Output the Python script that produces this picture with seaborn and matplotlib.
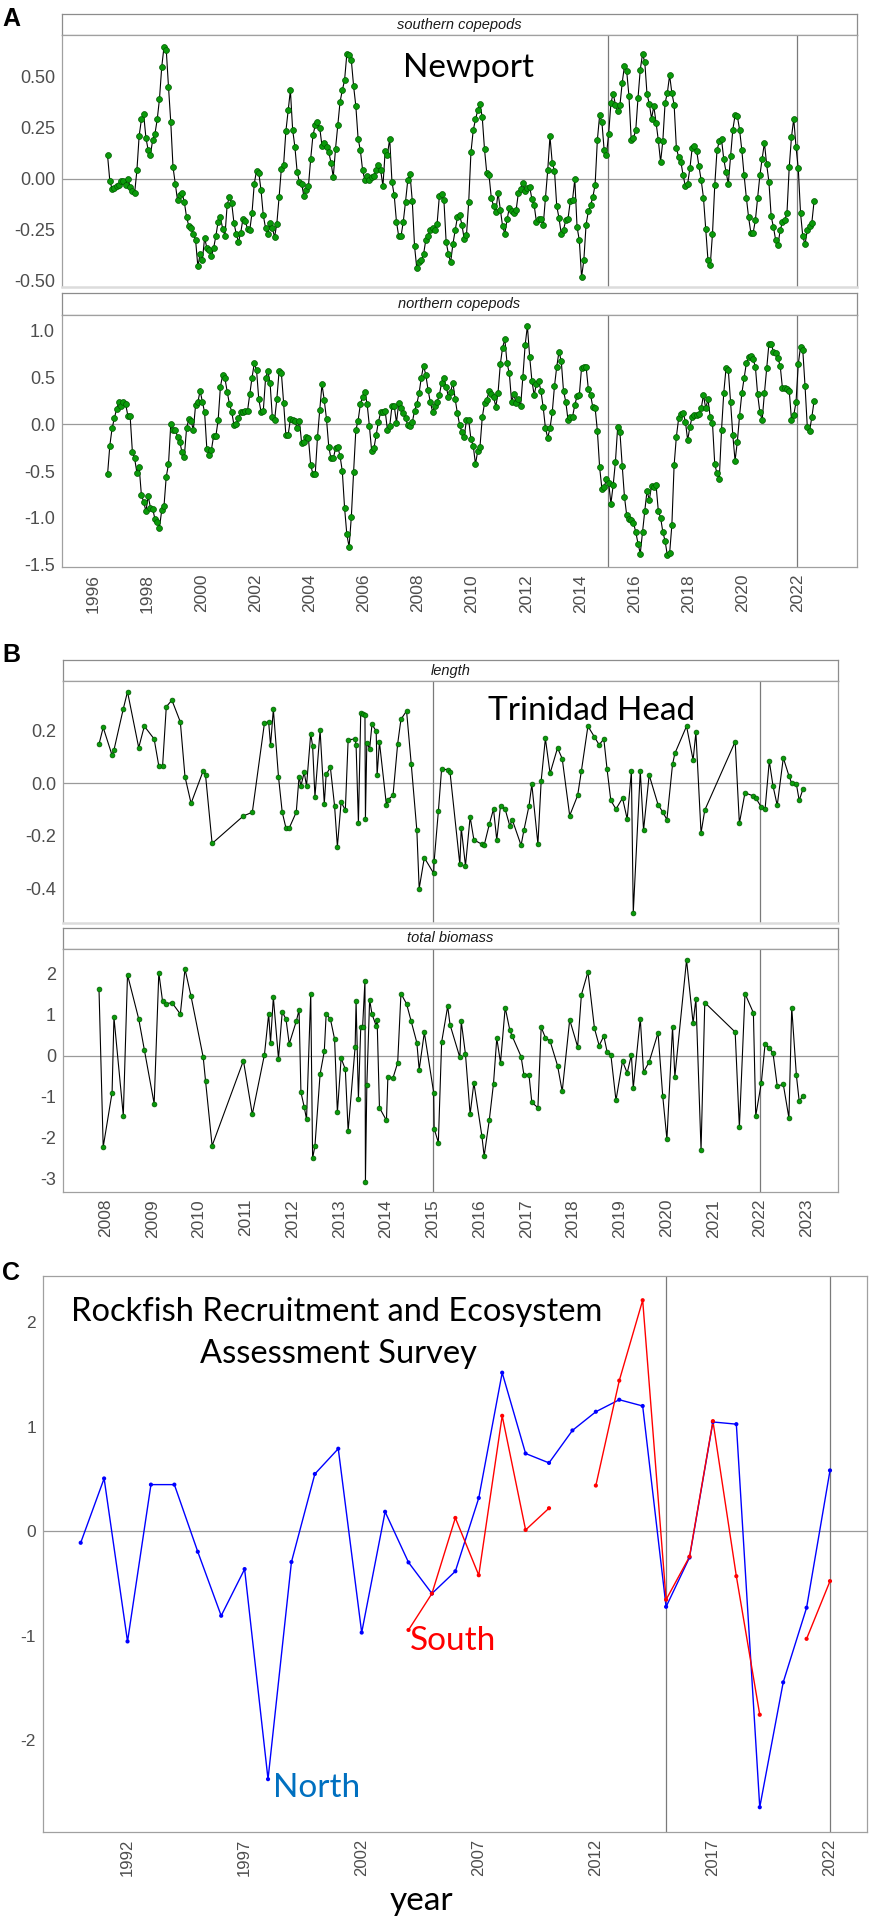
import matplotlib
matplotlib.use("Agg")
import matplotlib.pyplot as plt
import numpy as np
import pandas as pd
import seaborn as sns


W, H = 873, 1922

# ---- A: Newport copepod anomalies, monthly from Jul 1996 ----
NEWPORT_START = 1996 + 6.5 / 12

SOUTHERN = [
    0.114, -0.01, -0.05, -0.045, -0.035, -0.03, -0.01, -0.01, -0.03, 0.0,
    -0.04, -0.06, -0.07, 0.04, 0.21, 0.29, 0.315, 0.2, 0.14, 0.118,
    0.19, 0.22, 0.29, 0.39, 0.547, 0.645, 0.632, 0.45, 0.278, 0.057,
    -0.025, -0.106, -0.078, -0.07, -0.114, -0.188, -0.232, -0.242, -0.27, -0.30,
    -0.43, -0.37, -0.40, -0.29, -0.34, -0.35, -0.38, -0.34, -0.28, -0.21,
    -0.19, -0.245, -0.28, -0.127, -0.09, -0.12, -0.217, -0.27, -0.31, -0.265,
    -0.196, -0.209, -0.245, -0.253, -0.167, -0.025, 0.039, 0.029, -0.057, -0.18,
    -0.242, -0.27, -0.217, -0.242, -0.286, -0.22, -0.09, 0.049, 0.069, 0.232,
    0.335, 0.433, 0.24, 0.155, 0.033, -0.016, -0.025, -0.087, -0.057, -0.036,
    0.098, 0.212, 0.261, 0.276, 0.25, 0.16, 0.175, 0.155, 0.131, 0.078,
    0.008, 0.147, 0.261, 0.376, 0.433, 0.482, 0.61, 0.605, 0.58, 0.454,
    0.355, 0.196, 0.139, 0.041, -0.008, 0.011, -0.008, 0.008, 0.013, 0.041,
    0.069, 0.041, -0.036, 0.136, 0.118, 0.196, -0.016, -0.082, -0.212, -0.283,
    -0.283, -0.212, -0.114, -0.008, 0.021, -0.109, -0.33, -0.44, -0.41, -0.40,
    -0.37, -0.30, -0.28, -0.25, -0.24, -0.25, -0.22,
    -0.085, -0.077, -0.103, -0.31, -0.368, -0.41, -0.32, -0.253, -0.188, -0.18,
    -0.225, -0.297, -0.278, -0.114, 0.13, 0.237, 0.29, 0.335, 0.368, 0.3,
    0.144, 0.028, 0.016, -0.093, -0.134, -0.163, -0.069, -0.152, -0.232, -0.27,
    -0.2, -0.142, -0.16, -0.168, -0.155, -0.07, -0.049, -0.021, -0.06, -0.046,
    -0.04, -0.1, -0.13, -0.212, -0.196, -0.2, -0.229, -0.093, 0.04, 0.207,
    0.078, 0.038, -0.134, -0.193, -0.27, -0.25, -0.204, -0.196, -0.11, -0.103,
    -0.003, -0.237, -0.302, -0.482, -0.40, -0.225, -0.16, -0.13, -0.09, -0.03,
    0.19, 0.31, 0.278, 0.14, 0.115, 0.22, 0.37, 0.417, 0.363, 0.33,
    0.36, 0.47, 0.552, 0.526, 0.404, 0.19, 0.2, 0.237, 0.395, 0.534,
    0.61, 0.572, 0.413, 0.368, 0.294, 0.355, 0.275, 0.188, 0.082, 0.185,
    0.371, 0.42, 0.507, 0.42, 0.363, 0.15, 0.106, 0.082, 0.016, -0.038,
    -0.025, 0.052, 0.15, 0.158, 0.136, 0.06, -0.008, -0.093, -0.248, -0.40,
    -0.425, -0.27, -0.033, 0.139, 0.183, 0.193, 0.095, 0.033, -0.025, 0.11,
    0.24, 0.31, 0.307, 0.24, 0.139, 0.016, -0.093, -0.19, -0.265, -0.266,
    -0.204, -0.093, 0.016, 0.098, 0.175, 0.07, -0.016, -0.185, -0.237, -0.302,
    -0.324, -0.253, -0.212, -0.204, -0.167, 0.057, 0.204, 0.294, 0.155, 0.05,
    -0.167, -0.283, -0.322, -0.253, -0.234, -0.217, -0.111,
]

NORTHERN = [
    -0.535, -0.228, -0.043, 0.064, 0.164, 0.236, 0.2, 0.236, 0.218, 0.093,
    0.089, -0.293, -0.364, -0.517, -0.454, -0.757, -0.828, -0.928, -0.768, -0.889,
    -0.9, -1.014, -1.042, -1.103, -0.918, -0.875, -0.56, -0.425, 0.0, -0.06,
    -0.055, -0.13, -0.185, -0.3, -0.346, -0.043, 0.057, 0.036, -0.06, 0.207,
    0.236, 0.36, 0.243, 0.128, -0.268, -0.328, -0.275, -0.121, -0.121, 0.046,
    0.403, 0.528, 0.493, 0.35, 0.218, 0.136, -0.007, 0.0, 0.064, 0.136,
    0.128, 0.146, 0.143, 0.321, 0.5, 0.653, 0.582, 0.268, 0.136, 0.146,
    0.493, 0.571, 0.446, 0.075, 0.046, 0.271, 0.571, 0.553, 0.232, -0.114,
    -0.114, 0.054, 0.046, 0.036, -0.043, 0.036, -0.203, -0.193, -0.132, -0.15,
    -0.435, -0.532, -0.532, -0.139, 0.153, 0.428, 0.26, 0.057, -0.239, -0.364,
    -0.364, -0.257, -0.239, -0.339, -0.5, -0.89, -1.175, -1.31, -0.99, -0.51,
    -0.06, 0.04, 0.218, 0.296, 0.343, 0.218, -0.018, -0.282, -0.257, -0.114,
    0.029, 0.128, 0.136, 0.143, -0.06, -0.018, 0.196, 0.2, 0.018, 0.232,
    0.171, 0.118, 0.064, -0.007, -0.018, 0.021, 0.146, 0.218, 0.332, 0.5,
    0.628, 0.528, 0.368, 0.236, 0.136, 0.2, 0.243, 0.314, 0.446, 0.493,
    0.403, 0.296, 0.35, 0.446, 0.271, 0.118, -0.007, -0.086, -0.132, 0.046,
    0.046, -0.161, -0.228, -0.425, -0.282, -0.239, 0.075, 0.225, 0.26, 0.357,
    0.325, 0.296, 0.189, 0.339, 0.642, 0.821, 0.91, 0.653, 0.546, 0.243,
    0.321, 0.225, 0.271, 0.196, 0.51, 0.849, 1.053, 0.724, 0.468, 0.314,
    0.432, 0.464, 0.357, 0.182, -0.043, -0.143, -0.043, 0.128, 0.41, 0.617,
    0.778, 0.678, 0.357, 0.243, 0.046, 0.082, 0.082, 0.207, 0.303, 0.314,
    0.607, 0.617, 0.617, 0.378, 0.314, 0.182, 0.178, -0.068, -0.46, -0.686,
    -0.668, -0.589, -0.625, -0.846, -0.65, -0.40, -0.025, -0.086, -0.44, -0.775,
    -0.971, -1.007, -1.025, -1.053, -1.15, -1.274, -1.381, -1.15, -0.925, -0.71,
    -0.81, -0.657, -0.668, -0.65, -0.925, -0.996, -1.15, -1.246, -1.40, -1.38,
    -1.078, -0.436, -0.132, 0.064, 0.107, 0.125, 0.029, -0.168, -0.025, 0.082,
    0.1, 0.1, 0.111, 0.171, 0.314, 0.171, 0.268, 0.075, 0.011, -0.425,
    -0.525, -0.585, -0.06, 0.339, 0.6, 0.582, 0.243, -0.114, -0.389, -0.186,
    0.093, 0.332, 0.493, 0.653, 0.724, 0.732, 0.696, 0.617, 0.321, 0.128,
    0.046, 0.332, 0.6, 0.86, 0.86, 0.778, 0.76, 0.707, 0.625, 0.385,
    0.393, 0.375, 0.36, 0.046, 0.1, 0.236, 0.642, 0.832, 0.796, 0.41,
    -0.025, -0.071, 0.075, 0.25,
]

# ---- B: Trinidad Head cruises (decimal year) ----
TRINIDAD_DATES = [
    2007.86, 2007.95, 2008.14, 2008.18, 2008.38, 2008.47, 2008.71, 2008.83, 2009.04, 2009.14,
    2009.22, 2009.30, 2009.42, 2009.60, 2009.70, 2009.83, 2010.09, 2010.14, 2010.28, 2010.95,
    2011.14, 2011.40, 2011.49, 2011.53, 2011.59, 2011.70, 2011.78, 2011.86, 2011.93, 2012.08,
    2012.14, 2012.18, 2012.25, 2012.30, 2012.39, 2012.43, 2012.48, 2012.59, 2012.68, 2012.72,
    2012.81, 2012.90, 2012.96, 2013.04, 2013.13, 2013.19, 2013.34, 2013.36, 2013.41, 2013.46,
    2013.50, 2013.55, 2013.56, 2013.59, 2013.65, 2013.70, 2013.79, 2013.81, 2013.86, 2014.01,
    2014.04, 2014.15, 2014.25, 2014.32, 2014.44, 2014.54, 2014.66, 2014.71, 2014.82, 2015.02,
    2015.03, 2015.12, 2015.19, 2015.32, 2015.37, 2015.58, 2015.61, 2015.70, 2015.80, 2015.88,
    2016.05, 2016.10, 2016.21, 2016.30, 2016.37, 2016.45, 2016.55, 2016.65, 2016.70, 2016.89,
    2016.95, 2017.06, 2017.12, 2017.25, 2017.32, 2017.41, 2017.51, 2017.67, 2017.77, 2017.93,
    2018.10, 2018.18, 2018.32, 2018.46, 2018.56, 2018.66, 2018.73, 2018.81, 2018.92, 2019.06,
    2019.16, 2019.25, 2019.29, 2019.44, 2019.51, 2019.63, 2019.82, 2019.92, 2020.01, 2020.13,
    2020.18, 2020.43, 2020.57, 2020.63, 2020.74, 2020.82, 2021.47, 2021.56, 2021.68, 2021.86,
    2021.91, 2022.03, 2022.11, 2022.20, 2022.28, 2022.37, 2022.50, 2022.62, 2022.68, 2022.78,
    2022.84, 2022.92,
]

LENGTH = [
    0.149, 0.213, 0.107, 0.127, 0.284, 0.349, 0.136, 0.218, 0.169, 0.066,
    0.065, 0.292, 0.317, 0.234, 0.025, -0.076, 0.048, 0.030, -0.229, -0.124,
    -0.110, 0.230, 0.234, 0.145, 0.282, 0.025, -0.110, -0.170, -0.170, -0.110,
    0.025, -0.010, 0.042, -0.009, 0.189, 0.142, -0.051, 0.202, -0.077, 0.034,
    0.061, -0.086, -0.241, -0.071, -0.102, 0.165, 0.170, 0.146, -0.150, 0.269,
    0.264, 0.259, -0.135, 0.155, 0.131, 0.225, 0.199, 0.032, 0.157, -0.084,
    -0.062, -0.046, 0.151, 0.244, 0.276, 0.074, -0.179, -0.401, -0.283, -0.343,
    -0.297, -0.107, 0.056, 0.051, 0.042, -0.309, -0.169, -0.314, -0.128, -0.215,
    -0.232, -0.236, -0.156, -0.098, -0.216, -0.085, -0.099, -0.163, -0.138, -0.236,
    -0.179, -0.085, -0.004, -0.231, 0.010, 0.171, 0.038, 0.135, 0.094, -0.123,
    -0.046, 0.047, 0.218, 0.177, 0.147, 0.169, 0.053, -0.065, -0.098, -0.056,
    -0.136, 0.046, -0.493, 0.046, -0.179, 0.032, -0.081, -0.109, -0.138, 0.072,
    0.114, 0.218, 0.089, 0.194, -0.189, -0.102, 0.159, -0.152, -0.036, -0.048,
    -0.055, -0.091, -0.098, 0.085, -0.010, -0.084, 0.097, 0.029, 0.000, -0.003,
    -0.065, -0.022,
]

BIOMASS = [
    1.63, -2.23, -0.90, 0.94, -1.46, 1.98, 0.90, 0.15, -1.17, 2.03,
    1.33, 1.27, 1.30, 1.02, 2.12, 1.45, -0.04, -0.62, -2.20, -0.12,
    -1.43, 0.03, 1.02, 0.32, 1.43, -0.07, 1.07, 0.90, 0.29, 0.84,
    1.12, -0.89, -1.25, -1.55, 1.52, -2.51, -2.20, -0.45, 0.11, 1.02,
    0.90, 0.41, -1.38, -0.06, -0.33, -1.84, 0.22, 1.34, -1.05, 0.70,
    0.71, 1.84, -3.08, -0.72, 1.37, 1.02, 0.73, 0.88, -1.27, -1.58,
    -0.53, -0.54, -0.17, 1.52, 1.27, 0.84, 0.32, -0.34, 0.57, -0.90,
    -1.78, -2.12, 0.33, 1.21, 0.76, -0.04, 0.84, 0.04, -1.43, -0.66,
    -1.95, -2.45, -1.57, -0.68, 0.43, -0.17, 1.18, 0.62, 0.48, -0.02,
    -0.46, -0.48, -1.14, -1.27, 0.70, 0.44, 0.36, -0.24, -0.87, 0.88,
    0.22, 1.49, 2.05, 0.67, 0.25, 0.48, 0.10, 0.03, -1.09, -0.13,
    -0.42, 0.02, -0.79, 0.91, -0.40, -0.15, 0.56, -0.98, -2.04, 0.70,
    -0.51, 2.34, 0.80, 1.39, -2.30, 1.30, 0.58, -1.75, 1.52, 1.05,
    -1.47, -0.66, 0.29, 0.19, 0.06, -0.74, -0.70, -1.52, 1.18, -0.48,
    -1.11, -0.98,
]

# ---- C: RREAS annual index ----
NORTH_YEARS = list(range(1990, 2023))
NORTH = [
    -0.11, 0.506, -1.055, 0.447, 0.447, -0.196, -0.809, -0.362, -2.374, -0.294,
    0.549, 0.791, -0.970, 0.187, -0.298, -0.596, -0.383, 0.319, 1.519, 0.745,
    0.655, 0.966, 1.145, 1.26, 1.20, -0.723, -0.251, 1.047, 1.026, -2.643,
    -1.447, -0.732, 0.583,
]
SOUTH_YEARS = list(range(2004, 2023))
SOUTH = [
    -0.945, -0.596, 0.128, -0.421, 1.106, 0.013, 0.221, np.nan, 0.438, 1.443,
    2.213, -0.655, -0.243, 1.055, -0.43, -1.757, np.nan, -1.03, -0.477,
]

EVENT_YEARS = [2015, 2022]

GREEN = "#0a9a0a"
GREEN_EDGE = "#005a00"
TICK_GREY = "#4d4d4d"


sns.set_theme(style="white")
plt.rcParams["font.family"] = ["Liberation Sans", "DejaVu Sans"]
plt.rcParams["axes.unicode_minus"] = False

fig = plt.figure(figsize=(W / 100, H / 100), dpi=100)


def px_axes(left, top, right, bottom):
    return fig.add_axes([left / W, 1 - bottom / H, (right - left) / W, (bottom - top) / H])


def strip(left, top, right, bottom, label):
    ax = px_axes(left, top, right, bottom)
    ax.set_facecolor("white")
    ax.set_xticks([])
    ax.set_yticks([])
    for sp in ax.spines.values():
        sp.set_color("#8c8c8c")
        sp.set_linewidth(0.9)
    ax.text(0.5, 0.5, label, transform=ax.transAxes, ha="center", va="center",
            fontsize=10.5, style="italic", color="#1a1a1a")
    return ax


def panel(left, top, right, bottom, xlim, ylim, yticks, yfmt, xticks=None,
          ysize=13, xsize=12.5):
    ax = px_axes(left, top, right, bottom)
    ax.set_facecolor("white")
    ax.set_xlim(*xlim)
    ax.set_ylim(*ylim)
    ax.axhline(0, color="#9a9a9a", lw=0.9, zorder=1)
    for yr in EVENT_YEARS:
        ax.axvline(yr, color="#7a7a7a", lw=0.9, zorder=1)
    ax.set_yticks(yticks)
    ax.set_yticklabels([yfmt % v for v in yticks])
    if xticks is None:
        ax.set_xticks([])
    else:
        ax.set_xticks(xticks)
        ax.set_xticklabels([str(v) for v in xticks], rotation=90)
    ax.tick_params(axis="both", direction="out", length=3, width=0.7, color=TICK_GREY,
                   labelcolor=TICK_GREY, pad=2)
    ax.tick_params(axis="y", labelsize=ysize)
    ax.tick_params(axis="x", labelsize=xsize)
    for sp in ax.spines.values():
        sp.set_color("#a0a0a0")
        sp.set_linewidth(0.9)
    if xticks is None:
        ax.spines["bottom"].set_color("#dcdcdc")
        ax.spines["bottom"].set_linewidth(1.8)
    ax.set_xlabel("")
    ax.set_ylabel("")
    return ax


def green_series(ax, x, y, size):
    sns.lineplot(x=x, y=y, ax=ax, color="black", linewidth=0.8, estimator=None,
                 sort=False, zorder=2)
    sns.scatterplot(x=x, y=y, ax=ax, color=GREEN, edgecolor=GREEN_EDGE, linewidth=0.5,
                    s=size, zorder=3)
    ax.set_xlabel("")
    ax.set_ylabel("")


# ---------------- Panel A ----------------
south_dates = NEWPORT_START + np.arange(len(SOUTHERN)) / 12
north_dates = NEWPORT_START + np.arange(len(NORTHERN)) / 12
a_xlim = (1994.86, 2024.21)

strip(62, 14, 857, 35, "southern copepods")
ax_a1 = panel(62, 35, 857, 287, a_xlim, (-0.531, 0.704),
              [-0.5, -0.25, 0.0, 0.25, 0.5], "%.2f")
green_series(ax_a1, south_dates, SOUTHERN, 18)

strip(62, 293, 857, 315, "northern copepods")
ax_a2 = panel(62, 315, 857, 567, a_xlim, (-1.525, 1.17),
              [-1.5, -1.0, -0.5, 0.0, 0.5, 1.0], "%.1f", xticks=list(range(1996, 2023, 2)))
green_series(ax_a2, north_dates, NORTHERN, 18)

fig.text(469 / W, 1 - 77 / H, "Newport", ha="center", va="baseline",
         fontsize=24, family="Lato", color="black")

# ---------------- Panel B ----------------
b_xlim = (2007.09, 2023.67)

strip(63, 660, 838, 681, "length")
ax_b1 = panel(63, 681, 838, 923, b_xlim, (-0.532, 0.39),
              [-0.4, -0.2, 0.0, 0.2], "%.1f")
green_series(ax_b1, TRINIDAD_DATES, LENGTH, 12)

strip(63, 928, 838, 949, "total biomass")
ax_b2 = panel(63, 949, 838, 1192, b_xlim, (-3.33, 2.61),
              [-3, -2, -1, 0, 1, 2], "%d", xticks=list(range(2008, 2024)))
green_series(ax_b2, TRINIDAD_DATES, BIOMASS, 12)

fig.text(592 / W, 1 - 720 / H, "Trinidad Head", ha="center", va="baseline",
         fontsize=24, family="Lato", color="black")

# ---------------- Panel C ----------------
north_df = pd.DataFrame({"year": NORTH_YEARS, "value": NORTH, "site": "North", "seg": 0})
south_df = pd.DataFrame({"year": SOUTH_YEARS, "value": SOUTH, "site": "South"})
south_df["seg"] = 1 + south_df["value"].isna().cumsum()
rreas = pd.concat([north_df, south_df], ignore_index=True).dropna(subset=["value"])
palette = {"North": "#0000ff", "South": "#ff0000"}

ax_c = panel(43, 1276, 867, 1832, (1988.39, 2023.58), (-2.88, 2.445),
             [-2, -1, 0, 1, 2], "%d", xticks=list(range(1992, 2023, 5)),
             ysize=12.5, xsize=12)
ax_c.spines["bottom"].set_color("#a0a0a0")
ax_c.spines["bottom"].set_linewidth(0.9)
sns.lineplot(data=rreas, x="year", y="value", hue="site", units="seg", estimator=None,
             palette=palette, linewidth=1.0, legend=False, ax=ax_c, zorder=2)
sns.scatterplot(data=rreas, x="year", y="value", hue="site", palette=palette,
                s=9, linewidth=0, legend=False, ax=ax_c, zorder=3)
ax_c.set_xlabel("")
ax_c.set_ylabel("")

fig.text(337 / W, 1 - 1321 / H, "Rockfish Recruitment and Ecosystem", ha="center",
         va="baseline", fontsize=23.5, family="Lato", color="black")
fig.text(338 / W, 1 - 1363 / H, "Assessment Survey", ha="center",
         va="baseline", fontsize=23.5, family="Lato", color="black")
fig.text(273 / W, 1 - 1797 / H, "North", ha="left", va="baseline",
         fontsize=24, family="Lato", color="#0070c0")
fig.text(410 / W, 1 - 1650 / H, "South", ha="left", va="baseline",
         fontsize=24, family="Lato", color="#ff0000")
fig.text(421 / W, 1 - 1910 / H, "year", ha="center", va="baseline",
         fontsize=24, family="Lato", color="black")

# panel letters
for letter, top in [("A", 7), ("B", 643), ("C", 1261)]:
    fig.text(2 / W, 1 - top / H, letter, ha="left", va="top", fontsize=18,
             fontweight="bold", color="black")

fig.savefig("out.png", dpi=100)
